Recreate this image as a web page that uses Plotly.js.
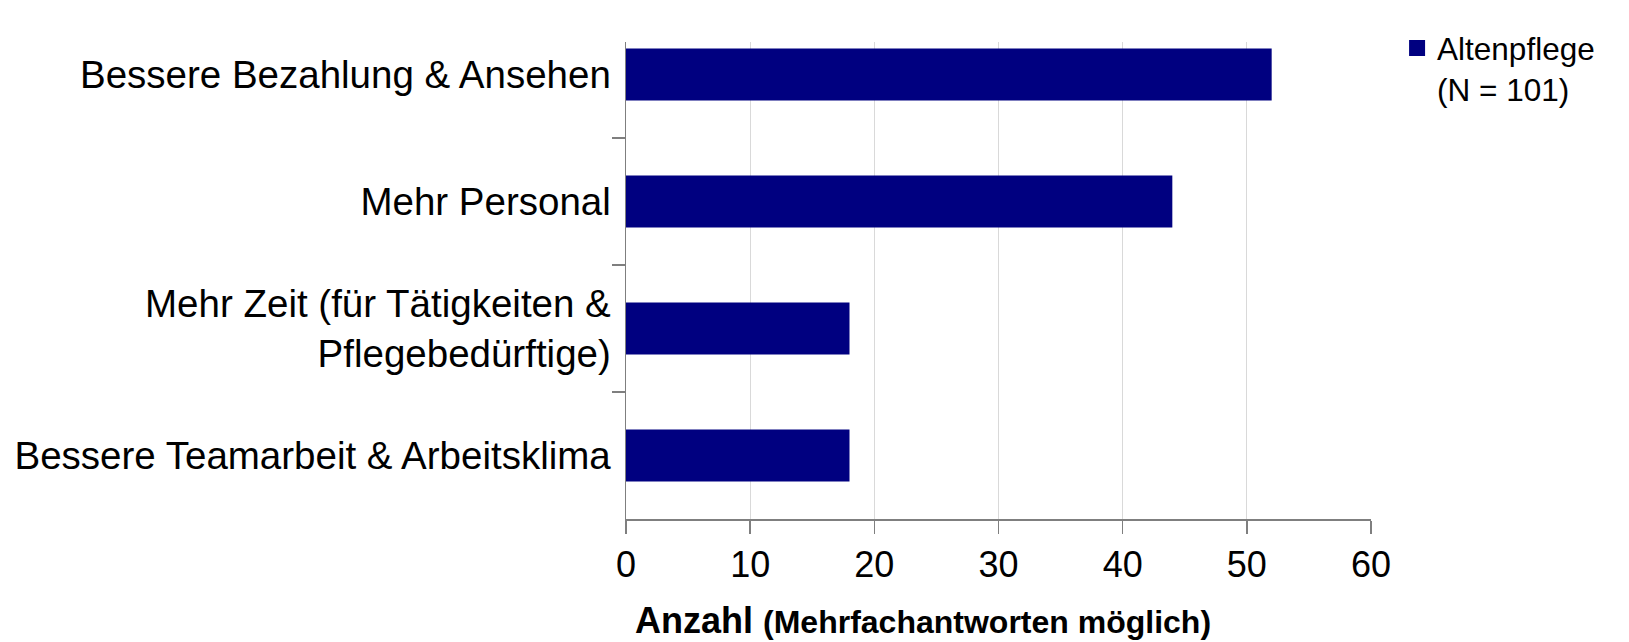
<!DOCTYPE html>
<html>
<head>
<meta charset="utf-8">
<script src="https://cdn.plot.ly/plotly-3.0.1.min.js"></script>
<style>html,body{margin:0;padding:0;background:#fff;}#chart{width:1629px;height:642px;}</style>
</head>
<body>
<div id="chart"></div>
<script>
const categories = [
  "Bessere Bezahlung & Ansehen",
  "Mehr Personal",
  "Mehr Zeit (für Tätigkeiten &<br>Pflegebedürftige)",
  "Bessere Teamarbeit & Arbeitsklima"
];
const values = [52, 44, 18, 18];
const seriesName = "Altenpflege<br>(N = 101)";
const xTicks = [0, 10, 20, 30, 40, 50, 60];

const FONT = "Liberation Sans, Arial, sans-serif";
const NAVY = "#000080";

const barTrace = {
  type: "bar",
  orientation: "h",
  x: values,
  y: categories,
  name: seriesName,
  marker: {color: NAVY, line: {width: 0}},
  showlegend: false,
  hoverinfo: "x+y"
};

// legend-only entry (draws no mark) so the legend key can be a larger square
const legendTrace = {
  type: "scatter",
  mode: "markers",
  x: [null],
  y: [null],
  name: seriesName,
  marker: {symbol: "square", size: 16, color: NAVY},
  showlegend: true,
  hoverinfo: "skip"
};

const layout = {
  width: 1629,
  height: 642,
  margin: {l: 626, r: 258, t: 42, b: 123, pad: 0},
  paper_bgcolor: "#ffffff",
  plot_bgcolor: "#ffffff",
  font: {family: FONT, color: "#000000"},
  bargap: 0.59,
  showlegend: true,
  legend: {
    x: 1.035, y: 1.044, xanchor: "left", yanchor: "top",
    font: {family: FONT, size: 31.5, color: "#000"},
    valign: "top",
    bgcolor: "rgba(0,0,0,0)",
    borderwidth: 0
  },
  xaxis: {
    range: [0, 60],
    tickvals: xTicks,
    ticktext: xTicks.map(String),
    showgrid: true,
    gridcolor: "#d9d9d9",
    gridwidth: 1,
    zeroline: false,
    showline: true,
    linecolor: "#7f7f7f",
    linewidth: 1.5,
    ticks: "outside",
    ticklen: 13,
    tickcolor: "#7f7f7f",
    tickwidth: 1.5,
    tickfont: {family: FONT, size: 36, color: "#000"},
    fixedrange: true
  },
  yaxis: {
    type: "category",
    range: [3.5, -0.256],
    showgrid: false,
    zeroline: false,
    showline: true,
    linecolor: "#7f7f7f",
    linewidth: 1.5,
    ticks: "outside",
    tickson: "boundaries",
    ticklen: 13,
    tickcolor: "#7f7f7f",
    tickwidth: 1.5,
    ticklabelstandoff: 6,
    tickfont: {family: FONT, size: 38.5, color: "#000"},
    fixedrange: true
  },
  annotations: [{
    xref: "paper", yref: "paper",
    x: 0.01, y: -0.213,
    xanchor: "left", yanchor: "middle",
    showarrow: false,
    text: "<b>Anzahl</b> <b><span style='font-size:32px'>(Mehrfachantworten möglich)</span></b>",
    font: {family: FONT, size: 36, color: "#000"}
  }]
};

Plotly.newPlot("chart", [barTrace, legendTrace], layout, {displayModeBar: false, staticPlot: true});
</script>
</body>
</html>
